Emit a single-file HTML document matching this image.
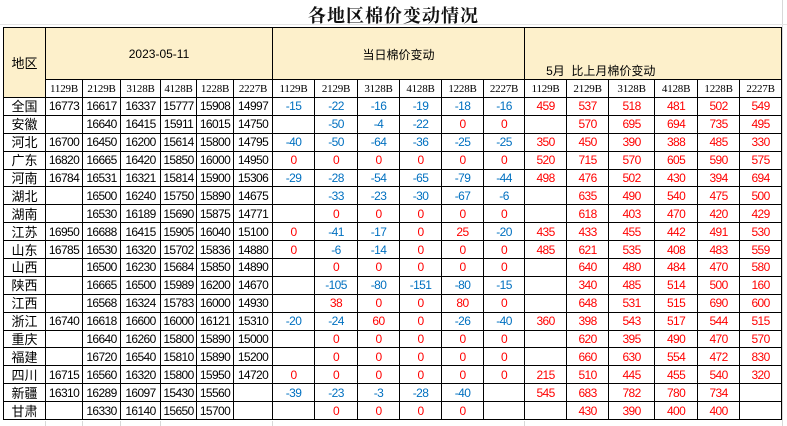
<!DOCTYPE html>
<html><head><meta charset="utf-8">
<style>
html,body{margin:0;padding:0;background:#fff;}
body{width:787px;height:426px;position:relative;overflow:hidden;font-family:"Liberation Sans","Noto Sans CJK SC",sans-serif;}
.title{position:absolute;left:0;width:787px;top:3px;text-align:center;font-family:"Noto Serif CJK SC","Liberation Serif",serif;font-weight:bold;font-size:18px;line-height:24px;letter-spacing:1px;color:#111;}
table{position:absolute;left:3px;top:27px;border-collapse:collapse;table-layout:fixed;width:779px;}
td{border:1px solid #000;padding:0;text-align:center;font-size:12px;letter-spacing:-0.6px;height:16.9px;line-height:16px;white-space:nowrap;overflow:hidden;color:#000;}
.h td{background:#fdf0cb;font-size:12px;letter-spacing:0;}
.h td.big{height:51px;}
.s td{font-family:"Liberation Serif",serif;font-size:11px;letter-spacing:-0.2px;height:17px;}
td.r{font-family:"Noto Sans CJK SC",sans-serif;font-size:13px;letter-spacing:0;}
.n{color:#0070c0;}
.p{color:#f00;}
.g{position:absolute;background:#d8d8d8;}
</style></head><body>
<div class="g" style="left:782px;top:0;width:1px;height:426px"></div>
<div class="g" style="left:0;top:24px;width:787px;height:1px;background:#e4e4e4"></div>
<div class="g" style="left:45px;top:421px;width:1px;height:5px"></div>
<div class="g" style="left:82px;top:421px;width:1px;height:5px"></div>
<div class="g" style="left:120px;top:421px;width:1px;height:5px"></div>
<div class="g" style="left:160px;top:421px;width:1px;height:5px"></div>
<div class="g" style="left:272px;top:421px;width:1px;height:5px"></div>
<div class="g" style="left:524px;top:421px;width:1px;height:5px"></div>
<div class="title">各地区棉价变动情况</div>
<table>
<colgroup>
<col style="width:42px"><col style="width:37px"><col style="width:38px"><col style="width:40px"><col style="width:36px"><col style="width:37px"><col style="width:39px">
<col style="width:42px"><col style="width:43px"><col style="width:42px"><col style="width:42px"><col style="width:42px"><col style="width:41px">
<col style="width:42px"><col style="width:42px"><col style="width:46px"><col style="width:43px"><col style="width:42px"><col style="width:42px">
</colgroup>
<tr class="h"><td rowspan="2" class="big r" style="background:#fdf0cb">地区</td><td colspan="6" class="big" style="vertical-align:middle">2023-05-11</td><td colspan="6" class="big" style="vertical-align:top;padding-top:19px;height:32px">当日棉价变动</td><td colspan="6" class="big" style="vertical-align:bottom;text-align:left;padding-left:21px;line-height:16px">5月&nbsp; 比上月棉价变动</td></tr>
<tr class="s"><td>1129B</td><td>2129B</td><td>3128B</td><td>4128B</td><td>1228B</td><td>2227B</td><td>1129B</td><td>2129B</td><td>3128B</td><td>4128B</td><td>1228B</td><td>2227B</td><td>1129B</td><td>2129B</td><td>3128B</td><td>4128B</td><td>1228B</td><td>2227B</td></tr>
<tr><td class="r">全国</td><td>16773</td><td>16617</td><td>16337</td><td>15777</td><td>15908</td><td>14997</td><td class="n">-15</td><td class="n">-22</td><td class="n">-16</td><td class="n">-19</td><td class="n">-18</td><td class="n">-16</td><td class="p">459</td><td class="p">537</td><td class="p">518</td><td class="p">481</td><td class="p">502</td><td class="p">549</td></tr>
<tr><td class="r">安徽</td><td></td><td>16640</td><td>16415</td><td>15911</td><td>16015</td><td>14750</td><td></td><td class="n">-50</td><td class="n">-4</td><td class="n">-22</td><td class="p">0</td><td class="p">0</td><td></td><td class="p">570</td><td class="p">695</td><td class="p">694</td><td class="p">735</td><td class="p">495</td></tr>
<tr><td class="r">河北</td><td>16700</td><td>16450</td><td>16200</td><td>15614</td><td>15800</td><td>14795</td><td class="n">-40</td><td class="n">-50</td><td class="n">-64</td><td class="n">-36</td><td class="n">-25</td><td class="n">-25</td><td class="p">350</td><td class="p">450</td><td class="p">390</td><td class="p">388</td><td class="p">485</td><td class="p">330</td></tr>
<tr><td class="r">广东</td><td>16820</td><td>16665</td><td>16420</td><td>15850</td><td>16000</td><td>14950</td><td class="p">0</td><td class="p">0</td><td class="p">0</td><td class="p">0</td><td class="p">0</td><td class="p">0</td><td class="p">520</td><td class="p">715</td><td class="p">570</td><td class="p">605</td><td class="p">590</td><td class="p">575</td></tr>
<tr><td class="r">河南</td><td>16784</td><td>16531</td><td>16321</td><td>15814</td><td>15900</td><td>15306</td><td class="n">-29</td><td class="n">-28</td><td class="n">-54</td><td class="n">-65</td><td class="n">-79</td><td class="n">-44</td><td class="p">498</td><td class="p">476</td><td class="p">502</td><td class="p">430</td><td class="p">394</td><td class="p">694</td></tr>
<tr><td class="r">湖北</td><td></td><td>16500</td><td>16240</td><td>15750</td><td>15890</td><td>14675</td><td></td><td class="n">-33</td><td class="n">-23</td><td class="n">-30</td><td class="n">-67</td><td class="n">-6</td><td></td><td class="p">635</td><td class="p">490</td><td class="p">540</td><td class="p">475</td><td class="p">500</td></tr>
<tr><td class="r">湖南</td><td></td><td>16530</td><td>16189</td><td>15690</td><td>15875</td><td>14771</td><td></td><td class="p">0</td><td class="p">0</td><td class="p">0</td><td class="p">0</td><td class="p">0</td><td></td><td class="p">618</td><td class="p">403</td><td class="p">470</td><td class="p">420</td><td class="p">429</td></tr>
<tr><td class="r">江苏</td><td>16950</td><td>16688</td><td>16415</td><td>15905</td><td>16040</td><td>15100</td><td class="p">0</td><td class="n">-41</td><td class="n">-17</td><td class="p">0</td><td class="p">25</td><td class="n">-20</td><td class="p">435</td><td class="p">433</td><td class="p">455</td><td class="p">442</td><td class="p">491</td><td class="p">530</td></tr>
<tr><td class="r">山东</td><td>16785</td><td>16530</td><td>16320</td><td>15702</td><td>15836</td><td>14880</td><td class="p">0</td><td class="n">-6</td><td class="n">-14</td><td class="p">0</td><td class="p">0</td><td class="p">0</td><td class="p">485</td><td class="p">621</td><td class="p">535</td><td class="p">408</td><td class="p">483</td><td class="p">559</td></tr>
<tr><td class="r">山西</td><td></td><td>16500</td><td>16230</td><td>15684</td><td>15850</td><td>14890</td><td></td><td class="p">0</td><td class="p">0</td><td class="p">0</td><td class="p">0</td><td class="p">0</td><td></td><td class="p">640</td><td class="p">480</td><td class="p">484</td><td class="p">470</td><td class="p">580</td></tr>
<tr><td class="r">陕西</td><td></td><td>16665</td><td>16500</td><td>15989</td><td>16200</td><td>14670</td><td></td><td class="n">-105</td><td class="n">-80</td><td class="n">-151</td><td class="n">-80</td><td class="n">-15</td><td></td><td class="p">340</td><td class="p">485</td><td class="p">514</td><td class="p">500</td><td class="p">160</td></tr>
<tr><td class="r">江西</td><td></td><td>16568</td><td>16324</td><td>15783</td><td>16000</td><td>14930</td><td></td><td class="p">38</td><td class="p">0</td><td class="p">0</td><td class="p">80</td><td class="p">0</td><td></td><td class="p">648</td><td class="p">531</td><td class="p">515</td><td class="p">690</td><td class="p">600</td></tr>
<tr><td class="r">浙江</td><td>16740</td><td>16618</td><td>16600</td><td>16000</td><td>16121</td><td>15310</td><td class="n">-20</td><td class="n">-24</td><td class="p">60</td><td class="p">0</td><td class="n">-26</td><td class="n">-40</td><td class="p">360</td><td class="p">398</td><td class="p">543</td><td class="p">517</td><td class="p">544</td><td class="p">515</td></tr>
<tr><td class="r">重庆</td><td></td><td>16640</td><td>16260</td><td>15800</td><td>15890</td><td>15000</td><td></td><td class="p">0</td><td class="p">0</td><td class="p">0</td><td class="p">0</td><td class="p">0</td><td></td><td class="p">620</td><td class="p">395</td><td class="p">490</td><td class="p">470</td><td class="p">570</td></tr>
<tr><td class="r">福建</td><td></td><td>16720</td><td>16540</td><td>15810</td><td>15890</td><td>15200</td><td></td><td class="p">0</td><td class="p">0</td><td class="p">0</td><td class="p">0</td><td class="p">0</td><td></td><td class="p">660</td><td class="p">630</td><td class="p">554</td><td class="p">472</td><td class="p">830</td></tr>
<tr><td class="r">四川</td><td>16715</td><td>16560</td><td>16320</td><td>15800</td><td>15950</td><td>14720</td><td class="p">0</td><td class="p">0</td><td class="p">0</td><td class="p">0</td><td class="p">0</td><td class="p">0</td><td class="p">215</td><td class="p">510</td><td class="p">445</td><td class="p">455</td><td class="p">540</td><td class="p">320</td></tr>
<tr><td class="r">新疆</td><td>16310</td><td>16289</td><td>16097</td><td>15430</td><td>15560</td><td></td><td class="n">-39</td><td class="n">-23</td><td class="n">-3</td><td class="n">-28</td><td class="n">-40</td><td></td><td class="p">545</td><td class="p">683</td><td class="p">782</td><td class="p">780</td><td class="p">734</td><td></td></tr>
<tr><td class="r">甘肃</td><td></td><td>16330</td><td>16140</td><td>15650</td><td>15700</td><td></td><td></td><td class="p">0</td><td class="p">0</td><td class="p">0</td><td class="p">0</td><td></td><td></td><td class="p">430</td><td class="p">390</td><td class="p">400</td><td class="p">400</td><td></td></tr>
</table>
</body></html>
